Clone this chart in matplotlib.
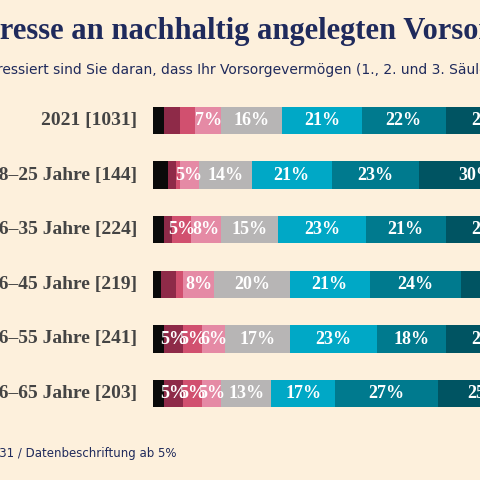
import numpy as np
import matplotlib.pyplot as plt

groups = ["2021 [1031]", "18–25 Jahre [144]", "26–35 Jahre [224]",
          "36–45 Jahre [219]", "46–55 Jahre [241]", "56–65 Jahre [203]"]
# segment shares per row (from least to most interested)
values = np.array([
    [3, 4, 4, 7, 16, 21, 22, 23],
    [4, 2, 1, 5, 14, 21, 23, 30],
    [3, 2, 5, 8, 15, 23, 21, 23],
    [2, 4, 2, 8, 20, 21, 24, 19],
    [3, 5, 5, 6, 17, 23, 18, 23],
    [3, 5, 5, 5, 13, 17, 27, 25],
])
colors = ["#0a0a0a", "#8e2a48", "#d1506f", "#e58aa5", "#b7b5b5",
          "#00a8c6", "#007a8e", "#005462"]

bg = "#fdf0dc"
navy = "#1f2a5c"
serif = "Liberation Serif"
W = 480
fig = plt.figure(figsize=(4.8, 4.8), dpi=100, facecolor=bg)

ax = fig.add_axes([153 / W, 1 - 421 / W, 380 / W, 328 / W])
ax.set_facecolor("none")
ax.set_xlim(0, 100)
ax.set_ylim(len(groups) - 0.5, -0.5)
ax.axis("off")

for i, row in enumerate(values):
    left = 0
    for v, c in zip(row, colors):
        ax.barh(i, v, left=left, height=0.5, color=c, edgecolor="none")
        if v >= 5:
            ax.text(left + v / 2, i, f"{v}%", ha="center", va="center",
                    color="white", fontsize=13, fontweight="bold",
                    family=serif)
        left += v
    ax.text(-4.2, i, groups[i], ha="right", va="center", fontsize=14,
            fontweight="bold", color="#444444", family=serif)

fig.text(-53 / W, 1 - 31 / W, "Interesse an nachhaltig angelegten Vorsorgegeldern",
         ha="left", va="center", fontsize=22, fontweight="bold", color=navy,
         family=serif)
fig.text(-60 / W, 1 - 70 / W,
         "Wie interessiert sind Sie daran, dass Ihr Vorsorgevermögen (1., 2. und 3. Säule) nachhaltig angelegt wird?",
         ha="left", va="center", fontsize=10, color=navy)
fig.text(-33 / W, 1 - 453 / W, "n=1031 / Datenbeschriftung ab 5%",
         ha="left", va="center", fontsize=8.5, color=navy)

fig.savefig("out.png", dpi=100, facecolor=bg)
